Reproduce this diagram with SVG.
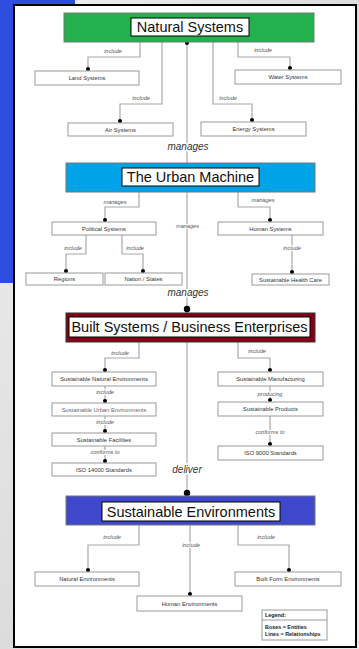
<svg xmlns="http://www.w3.org/2000/svg" width="359" height="649" viewBox="0 0 359 649">
<defs>
<linearGradient id="bg" x1="0" y1="0" x2="1" y2="1">
<stop offset="0" stop-color="#f0f0f0"/>
<stop offset="0.5" stop-color="#dcdcdc"/>
<stop offset="1" stop-color="#e8e8e8"/>
</linearGradient>
<style>
.box{fill:#fff;stroke:#9a9a9a;stroke-width:1}
.t{font-family:"Liberation Sans",Arial,sans-serif;font-size:5.8px;fill:#333;text-anchor:middle}
.lbl{font-family:"Liberation Sans",Arial,sans-serif;font-style:italic;font-size:5.6px;fill:#555;text-anchor:middle;stroke:#fff;stroke-width:2;paint-order:stroke}
.big{font-family:"Liberation Sans",Arial,sans-serif;font-style:italic;font-size:10px;fill:#333;text-anchor:middle;stroke:#fff;stroke-width:3;paint-order:stroke}
.title{font-family:"Liberation Sans",Arial,sans-serif;font-size:14.5px;fill:#111;text-anchor:middle}
.inner{fill:#fff;stroke:#000;stroke-width:1}
.con{fill:none;stroke:#a8a8a8;stroke-width:1.2}
.dot{fill:#000}
.leg{font-family:"Liberation Sans",Arial,sans-serif;font-weight:bold;font-size:5.4px;fill:#222}
</style>
</defs>
<rect x="0" y="0" width="359" height="649" fill="url(#bg)"/>
<rect x="0" y="0" width="75" height="283" fill="#2d4de0"/>
<rect x="14" y="5" width="342" height="642" fill="#fff" stroke="#000" stroke-width="2"/>

<g id="connectors">
<path class="con" d="M140,42 V57 H88 V69"/>
<path class="con" d="M162,42 V104 H120 V121"/>
<path class="con" d="M238,42 V57 H290 V68"/>
<path class="con" d="M213,42 V104 H252 V120"/>
<path class="con" d="M187,43 V163"/>
<path class="con" d="M139,192 V207 H105 V220"/>
<path class="con" d="M238,192 V207 H270 V220"/>
<path class="con" d="M86,235 V254 H66 V271"/>
<path class="con" d="M122,235 V254 H143 V271"/>
<path class="con" d="M292,235 V272"/>
<path class="con" d="M187,192 V313"/>
<path class="con" d="M139,342 V358 H105 V370"/>
<path class="con" d="M238,342 V358 H270 V370"/>
<path class="con" d="M105,386 V401"/>
<path class="con" d="M105,416 V431"/>
<path class="con" d="M105,446 V461"/>
<path class="con" d="M270,386 V400"/>
<path class="con" d="M270,416 V444"/>
<path class="con" d="M187,342 V496"/>
<path class="con" d="M139,525 V545 H88 V570"/>
<path class="con" d="M238,525 V545 H289 V570"/>
<path class="con" d="M190,525 V594"/>
<circle class="dot" cx="88" cy="69" r="2"/>
<circle class="dot" cx="120" cy="121" r="2"/>
<circle class="dot" cx="290" cy="68" r="2"/>
<circle class="dot" cx="252" cy="120" r="2"/>
<circle class="dot" cx="187" cy="43" r="2"/>
<circle class="dot" cx="105" cy="220" r="2"/>
<circle class="dot" cx="270" cy="220" r="2"/>
<circle class="dot" cx="66" cy="271" r="2"/>
<circle class="dot" cx="143" cy="271" r="2"/>
<circle class="dot" cx="292" cy="272" r="2"/>
<circle class="dot" cx="187" cy="309" r="3.2"/>
<circle class="dot" cx="105" cy="370" r="2"/>
<circle class="dot" cx="270" cy="370" r="2"/>
<circle class="dot" cx="105" cy="401" r="2"/>
<circle class="dot" cx="105" cy="431" r="2"/>
<circle class="dot" cx="105" cy="461" r="2"/>
<circle class="dot" cx="270" cy="400" r="2"/>
<circle class="dot" cx="270" cy="444" r="2"/>
<circle class="dot" cx="187" cy="493" r="3.2"/>
<circle class="dot" cx="88" cy="570" r="2"/>
<circle class="dot" cx="289" cy="570" r="2"/>
<circle class="dot" cx="190" cy="594" r="2"/>
<text class="lbl" x="113" y="53">include</text>
<text class="lbl" x="141" y="100">include</text>
<text class="lbl" x="263" y="52">include</text>
<text class="lbl" x="228" y="100">include</text>
<text class="big" x="188" y="150">manages</text>
<text class="lbl" x="115" y="204">manages</text>
<text class="lbl" x="263" y="202">manages</text>
<text class="lbl" x="187.5" y="228">manages</text>
<text class="lbl" x="73" y="250">include</text>
<text class="lbl" x="135" y="250">include</text>
<text class="lbl" x="292" y="250">include</text>
<text class="big" x="188" y="296">manages</text>
<text class="lbl" x="120" y="355">include</text>
<text class="lbl" x="257" y="353">include</text>
<text class="lbl" x="105" y="394">include</text>
<text class="lbl" x="105" y="424">include</text>
<text class="lbl" x="105" y="454">conforms to</text>
<text class="lbl" x="270" y="396">producing</text>
<text class="lbl" x="270" y="434">conforms to</text>
<text class="big" x="187" y="473">deliver</text>
<text class="lbl" x="112" y="539">include</text>
<text class="lbl" x="266" y="539">include</text>
<text class="lbl" x="191" y="547">include</text>
</g>

<g id="natural-systems">
<rect x="64" y="13" width="250" height="29" fill="#22b14c" stroke="#777" stroke-width="1"/>
<rect class="inner" x="131" y="18" width="118" height="18"/>
<text class="title" x="190" y="32.2">Natural Systems</text>
</g>
<g id="land-systems"><rect class="box" x="35" y="71" width="104" height="14"/><text class="t" x="87" y="80">Land Systems</text></g>
<g id="air-systems"><rect class="box" x="68" y="123" width="105" height="13"/><text class="t" x="120.5" y="131.5">Air Systems</text></g>
<g id="water-systems"><rect class="box" x="235" y="70" width="106" height="14"/><text class="t" x="288" y="79">Water Systems</text></g>
<g id="energy-systems"><rect class="box" x="201" y="122" width="105" height="14"/><text class="t" x="253.5" y="131">Energy Systems</text></g>

<g id="urban-machine">
<rect x="66" y="163" width="249" height="29" fill="#00a2e8" stroke="#777" stroke-width="1"/>
<rect class="inner" x="122" y="168" width="137" height="18"/>
<text class="title" x="190.5" y="182.2">The Urban Machine</text>
</g>
<g id="political-systems"><rect class="box" x="52" y="222" width="104" height="13"/><text class="t" x="104" y="230.5">Political Systems</text></g>
<g id="regions"><rect class="box" x="26" y="273" width="77" height="12"/><text class="t" x="64.5" y="281">Regions</text></g>
<g id="nation-states"><rect class="box" x="105" y="273" width="77" height="12"/><text class="t" x="143.5" y="281">Nation / States</text></g>
<g id="human-systems"><rect class="box" x="218" y="222" width="105" height="13"/><text class="t" x="270.5" y="230.5">Human Systems</text></g>
<g id="health-care"><rect class="box" x="252" y="274" width="77" height="11"/><text class="t" x="290.5" y="281.5">Sustainable Health Care</text></g>

<g id="built-systems">
<rect x="66" y="313" width="249" height="29" fill="#880015" stroke="#333" stroke-width="1"/>
<rect class="inner" x="69" y="317" width="241" height="20"/>
<text class="title" x="189.5" y="332.2">Built Systems / Business Enterprises</text>
</g>
<g id="sust-natural-env"><rect class="box" x="52" y="372" width="104" height="14"/><text class="t" x="104" y="381">Sustainable Natural Environments</text></g>
<g id="sust-urban-env"><rect class="box" x="52" y="403" width="104" height="13"/><text class="t" x="104" y="411.5" fill="#666" style="fill:#666">Sustainable Urban Environments</text></g>
<g id="sust-facilities"><rect class="box" x="52" y="433" width="104" height="13"/><text class="t" x="104" y="441.5">Sustainable Facilities</text></g>
<g id="iso-14000"><rect class="box" x="52" y="463" width="104" height="13"/><text class="t" x="104" y="471.5">ISO 14000 Standards</text></g>
<g id="sust-manufacturing"><rect class="box" x="218" y="372" width="105" height="14"/><text class="t" x="270.5" y="381">Sustainable Manufacturing</text></g>
<g id="sust-products"><rect class="box" x="218" y="402" width="105" height="14"/><text class="t" x="270.5" y="411">Sustainable Products</text></g>
<g id="iso-9000"><rect class="box" x="218" y="446" width="105" height="14"/><text class="t" x="270.5" y="455">ISO 9000 Standards</text></g>

<g id="sustainable-environments">
<rect x="66" y="496" width="249" height="29" fill="#3f48cc" stroke="#777" stroke-width="1"/>
<rect class="inner" x="102" y="502" width="178" height="19"/>
<text class="title" x="191" y="516.7">Sustainable Environments</text>
</g>
<g id="natural-env"><rect class="box" x="35" y="572" width="104" height="14"/><text class="t" x="87" y="581">Natural Environments</text></g>
<g id="built-form-env"><rect class="box" x="235" y="572" width="106" height="14"/><text class="t" x="288" y="581">Built Form Environments</text></g>
<g id="human-env"><rect class="box" x="137" y="596" width="105" height="15"/><text class="t" x="189.5" y="605.5">Human Environments</text></g>

<g id="legend">
<rect x="262" y="610" width="65" height="30" fill="#fff" stroke="#999" stroke-width="1"/>
<line x1="262" y1="620" x2="327" y2="620" stroke="#999" stroke-width="1"/>
<text class="leg" x="265" y="617">Legend:</text>
<text class="leg" x="265" y="629">Boxes = Entities</text>
<text class="leg" x="265" y="636">Lines = Relationships</text>
</g>
</svg>
